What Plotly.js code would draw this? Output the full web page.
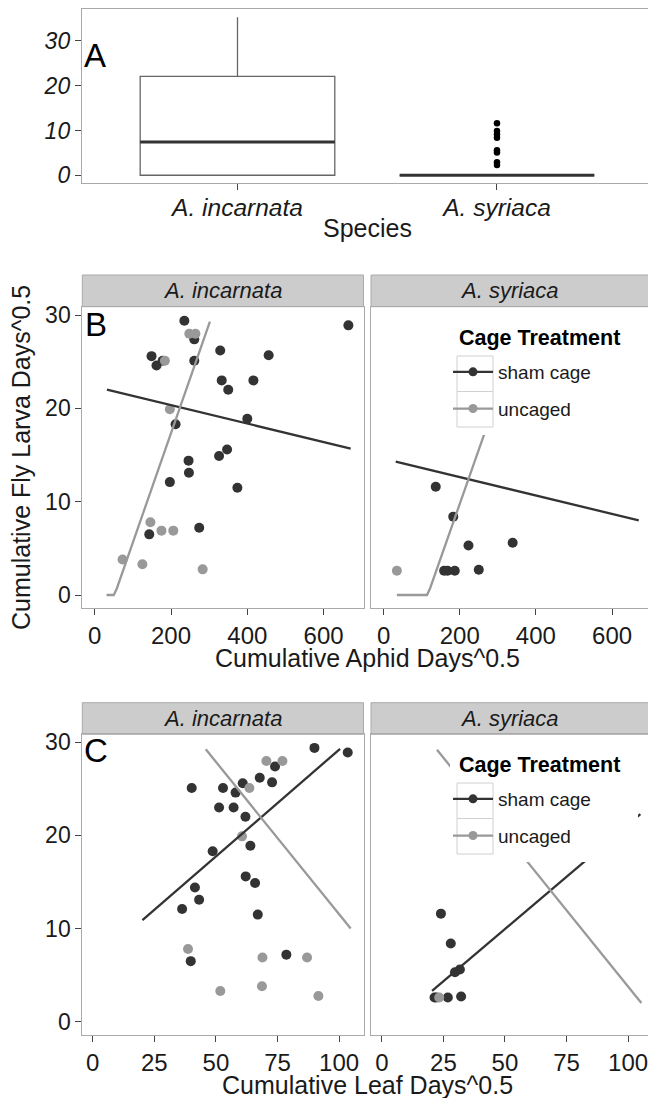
<!DOCTYPE html>
<html>
<head>
<meta charset="utf-8">
<script src="https://cdn.plot.ly/plotly-3.0.1.min.js"></script>
<style>html,body{margin:0;padding:0;background:#fff;}#chart{width:648px;height:1098px;}</style>
</head>
<body>
<div id="chart"></div>
<script>
// ---------- Panel A: boxplot by species ----------
const speciesLabels = ['A. incarnata', 'A. syriaca'];
const boxLower  = [0, 0];
const boxQ1     = [0, 0];
const boxMedian = [7.4, 0];
const boxQ3     = [22.1, 0];
const boxUpper  = [35.3, 0];
const syrOutliers = [11.6, 9.9, 9.1, 8.4, 5.6, 5.1, 2.9, 2.3];

// ---------- Panels B & C: individual plants ----------
// A. incarnata, sham cage
const incShamFly   = [29.4, 28.9, 27.4, 26.2, 25.7, 25.6, 25.1, 25.1, 24.6, 23.0, 23.0, 22.0, 18.9, 18.3, 15.6, 14.9, 14.4, 13.1, 12.1, 11.5, 7.2, 6.5];
const incShamAphid = [235, 665, 261, 329, 456, 149, 178, 261, 162, 333, 416, 350, 400, 212, 347, 326, 246, 247, 197, 374, 274, 143];
const incShamLeaf  = [90, 103.5, 74, 67.8, 72.8, 60.9, 40.2, 52.9, 58, 51.3, 57.2, 62, 64, 48.7, 62.1, 65.9, 41.5, 43.2, 36.3, 67, 78.6, 39.8];
// A. incarnata, uncaged
const incUncFly    = [28.0, 28.0, 25.1, 19.9, 7.8, 6.9, 6.9, 3.8, 3.3, 2.75];
const incUncAphid  = [248, 264, 184, 197, 146, 175, 206, 73, 125, 283];
const incUncLeaf   = [70.5, 77, 63.6, 60.6, 38.7, 68.9, 87, 68.7, 51.8, 91.6];
// A. syriaca, sham cage
const syrShamFly   = [11.6, 8.4, 5.3, 5.6, 2.6, 2.6, 2.6, 2.7];
const syrShamAphid = [137, 183, 223, 339, 159, 168, 187, 250];
const syrShamLeaf  = [24, 28, 29.7, 31.7, 21.4, 22.2, 26.8, 32.2];
// A. syriaca, uncaged
const syrUncFly    = [2.6];
const syrUncAphid  = [35];
const syrUncLeaf   = [23.3];

// ---------- fitted lines ----------
const fitB_incSham_x = [32, 671],      fitB_incSham_y = [22.0, 15.7];
const fitB_incUnc_x  = [31, 50, 58, 302], fitB_incUnc_y = [0, 0, 0.7, 29.3];
const fitB_syrSham_x = [32, 670],      fitB_syrSham_y = [14.3, 8.0];
const fitB_syrUnc_x  = [35, 114, 122, 302], fitB_syrUnc_y = [0, 0, 0.7, 21.6];
const fitC_incSham_x = [20.2, 100.4],  fitC_incSham_y = [10.9, 29.3];
const fitC_incUnc_x  = [45.9, 104.7],  fitC_incUnc_y = [29.25, 10.0];
const fitC_syrSham_x = [20.4, 105],    fitC_syrSham_y = [3.3, 22.3];
const fitC_syrUnc_x  = [22.4, 105.4],  fitC_syrUnc_y = [29.2, 2.0];

const treatments = ['sham cage', 'uncaged'];
const legendTitle = 'Cage Treatment';
const stripLabels = ['A. incarnata', 'A. syriaca'];

const DARK = '#333333', LIGHT = '#999999';
const FONT = 'Liberation Sans, Arial, Helvetica, sans-serif';
const W = 648, H = 1098;

function pts(x, y, col, xa, ya) {
  return {type:'scatter', mode:'markers', x:x, y:y, xaxis:xa, yaxis:ya,
    marker:{color:col, size:10}, showlegend:false, hoverinfo:'skip'};
}
function ln(x, y, col, xa, ya) {
  return {type:'scatter', mode:'lines', x:x, y:y, xaxis:xa, yaxis:ya,
    line:{color:col, width:2.3}, showlegend:false, hoverinfo:'skip'};
}

const traces = [];
// Panel A boxes
traces.push({type:'box', x:[0,1], q1:boxQ1, median:boxMedian, q3:boxQ3,
  lowerfence:boxLower, upperfence:boxUpper, width:0.75, whiskerwidth:0, xaxis:'x', yaxis:'y',
  fillcolor:'#ffffff', line:{color:'#666666', width:1.3}, boxpoints:false,
  showlegend:false, hoverinfo:'skip'});
const medX = [], medY = [];
boxMedian.forEach((m, i) => { medX.push(i - 0.375, i + 0.375, null); medY.push(m, m, null); });
traces.push({type:'scatter', mode:'lines', x:medX, y:medY, xaxis:'x', yaxis:'y',
  line:{color:DARK, width:3}, showlegend:false, hoverinfo:'skip'});
traces.push({type:'scatter', mode:'markers', x:syrOutliers.map(() => 1), y:syrOutliers,
  xaxis:'x', yaxis:'y', marker:{color:'#000000', size:6.5}, showlegend:false, hoverinfo:'skip'});

// Panel B
traces.push(pts(incShamAphid, incShamFly, DARK, 'x2', 'y2'));
traces.push(pts(incUncAphid, incUncFly, LIGHT, 'x2', 'y2'));
traces.push(ln(fitB_incSham_x, fitB_incSham_y, DARK, 'x2', 'y2'));
traces.push(ln(fitB_incUnc_x, fitB_incUnc_y, LIGHT, 'x2', 'y2'));
traces.push(pts(syrShamAphid, syrShamFly, DARK, 'x3', 'y3'));
traces.push(pts(syrUncAphid, syrUncFly, LIGHT, 'x3', 'y3'));
traces.push(ln(fitB_syrSham_x, fitB_syrSham_y, DARK, 'x3', 'y3'));
traces.push(ln(fitB_syrUnc_x, fitB_syrUnc_y, LIGHT, 'x3', 'y3'));
// Panel C
traces.push(pts(incShamLeaf, incShamFly, DARK, 'x4', 'y4'));
traces.push(pts(incUncLeaf, incUncFly, LIGHT, 'x4', 'y4'));
traces.push(ln(fitC_incSham_x, fitC_incSham_y, DARK, 'x4', 'y4'));
traces.push(ln(fitC_incUnc_x, fitC_incUnc_y, LIGHT, 'x4', 'y4'));
traces.push(pts(syrShamLeaf, syrShamFly, DARK, 'x5', 'y5'));
traces.push(pts(syrUncLeaf, syrUncFly, LIGHT, 'x5', 'y5'));
traces.push(ln(fitC_syrSham_x, fitC_syrSham_y, DARK, 'x5', 'y5'));
traces.push(ln(fitC_syrUnc_x, fitC_syrUnc_y, LIGHT, 'x5', 'y5'));

// legend entries
[['legend','x3','y3'], ['legend2','x5','y5']].forEach(([lg, xa, ya]) => {
  treatments.forEach((t, i) => {
    const c = i === 0 ? DARK : LIGHT;
    traces.push({type:'scatter', mode:'lines+markers', x:[null], y:[null], xaxis:xa, yaxis:ya,
      name:t, legend:lg, legendgroup:lg + t, line:{color:c, width:2.3},
      marker:{color:c, size:9}, hoverinfo:'skip'});
  });
});

const px = v => v / W;
const py = v => 1 - v / H;
const tickF = {family:FONT, size:24, color:'#1a1a1a'};
const tickFY = {family:FONT, size:23, color:'#1a1a1a'};
const tickFI = {family:FONT, size:24.5, color:'#1a1a1a', style:'italic'};
const tickFIY = {family:FONT, size:23, color:'#1a1a1a', style:'italic'};
const base = {showgrid:false, zeroline:false, showline:true, mirror:true, linecolor:'#aaaaaa',
  linewidth:1, ticks:'outside', ticklen:6, tickcolor:'#444444', tickwidth:1, automargin:false,
  fixedrange:true, ticklabeloverflow:'allow'};

const xB = [px(82.3), px(363.5)], xR = [px(371), 1];
const yB = [py(607.7), py(306.7)], yC = [py(1035), py(734.3)];

const legendBase = {x:px(448), xanchor:'left', yanchor:'top', bgcolor:'rgba(0,0,0,0)', borderwidth:0,
  font:{family:FONT, size:19, color:'#1a1a1a'}, tracegroupgap:9, itemwidth:40, traceorder:'grouped'};

const layout = {
  width:W, height:H, margin:{l:0, r:0, t:0, b:0},
  paper_bgcolor:'#ffffff', plot_bgcolor:'#ffffff',
  font:{family:FONT, color:'#1a1a1a'},
  xaxis: Object.assign({}, base, {domain:[px(81.8), 1], anchor:'y', range:[-0.6, 1.582],
    tickvals:[0,1], ticktext:speciesLabels, tickfont:tickFI, ticklabelstandoff:-4}),
  yaxis: Object.assign({}, base, {domain:[py(183.3), py(8.7)], anchor:'x', range:[-1.8, 37.2],
    tickvals:[0,10,20,30], tickfont:tickFIY}),
  xaxis2: Object.assign({}, base, {domain:xB, anchor:'y2', range:[-32.5, 704.6], tickvals:[0,200,400,600], tickfont:tickF}),
  yaxis2: Object.assign({}, base, {domain:yB, anchor:'x2', range:[-1.36, 30.9], tickvals:[0,10,20,30], tickfont:tickFY}),
  xaxis3: Object.assign({}, base, {domain:xR, anchor:'y3', range:[-33, 694.4], tickvals:[0,200,400,600], tickfont:tickF}),
  yaxis3: Object.assign({}, base, {domain:yB, anchor:'x3', range:[-1.36, 30.9], tickvals:[0,10,20,30], showticklabels:false, ticks:''}),
  xaxis4: Object.assign({}, base, {domain:xB, anchor:'y4', range:[-4.2, 109.9], tickvals:[0,25,50,75,100], tickfont:tickF}),
  yaxis4: Object.assign({}, base, {domain:yC, anchor:'x4', range:[-1.43, 30.86], tickvals:[0,10,20,30], tickfont:tickFY}),
  xaxis5: Object.assign({}, base, {domain:xR, anchor:'y5', range:[-4.4, 108.1], tickvals:[0,25,50,75,100], tickfont:tickF}),
  yaxis5: Object.assign({}, base, {domain:yC, anchor:'x5', range:[-1.43, 30.86], tickvals:[0,10,20,30], showticklabels:false, ticks:''}),
  legend: Object.assign({}, legendBase, {y:py(353)}),
  legend2: Object.assign({}, legendBase, {y:py(780)}),
  shapes: [], annotations: []
};

// strips
[['x2','y2',1, 31.7/301], ['x3','y3',1.03, 31.7/301], ['x4','y4',1, 31.6/300.7], ['x5','y5',1.03, 31.6/300.7]].forEach(([xa, ya, x1, h], k) => {
  layout.shapes.push({type:'rect', xref:xa + ' domain', yref:ya + ' domain', x0:0, x1:x1, y0:1, y1:1 + h,
    fillcolor:'#cccccc', line:{color:'#aaaaaa', width:1}, layer:'below'});
  layout.annotations.push({xref:xa + ' domain', yref:ya + ' domain', x:0.5, y:1 + h / 2,
    xanchor:'center', yanchor:'middle', showarrow:false, text:stripLabels[k % 2],
    font:{family:FONT, size:22, color:'#1a1a1a', style:'italic'}});
});

// legend backgrounds (white, hide lines beneath), key boxes and titles
[[322, 435], [749, 862]].forEach(([top, bottom]) => {
  layout.shapes.push({type:'rect', xref:'paper', yref:'paper', x0:px(450), x1:px(638), y0:py(bottom), y1:py(top),
    fillcolor:'#ffffff', line:{width:0}, layer:'above'});
  const k0 = top + 34;
  [0, 1].forEach(r => {
    layout.shapes.push({type:'rect', xref:'paper', yref:'paper', x0:px(457), x1:px(493),
      y0:py(k0 + 35.5 * (r + 1)), y1:py(k0 + 35.5 * r), fillcolor:'rgba(0,0,0,0)',
      line:{color:'#d0d0d0', width:1}, layer:'above'});
  });
  layout.annotations.push({xref:'paper', yref:'paper', x:px(457), y:py(top + 16), text:'<b>' + legendTitle + '</b>',
    showarrow:false, xanchor:'left', yanchor:'middle', font:{family:FONT, size:21.5, color:'#000'}});
});

// axis titles
const titleF = {family:FONT, size:25, color:'#1a1a1a'};
layout.annotations.push({xref:'paper', yref:'paper', x:px(367), y:py(228), text:'Species', showarrow:false, font:titleF, xanchor:'center', yanchor:'middle'});
layout.annotations.push({xref:'paper', yref:'paper', x:px(367.6), y:py(658), text:'Cumulative Aphid Days^0.5', showarrow:false, font:titleF, xanchor:'center', yanchor:'middle'});
layout.annotations.push({xref:'paper', yref:'paper', x:px(367.7), y:py(1085), text:'Cumulative Leaf Days^0.5', showarrow:false, font:titleF, xanchor:'center', yanchor:'middle'});
layout.annotations.push({xref:'paper', yref:'paper', x:px(21), y:py(458), text:'Cumulative Fly Larva Days^0.5', textangle:-90, showarrow:false, font:titleF, xanchor:'center', yanchor:'middle'});
// panel letters
const letterF = {family:FONT, size:33, color:'#000'};
layout.annotations.push({xref:'paper', yref:'paper', x:px(82), y:py(55), text:'A', showarrow:false, font:letterF, xanchor:'left', yanchor:'middle'});
layout.annotations.push({xref:'paper', yref:'paper', x:px(83), y:py(324), text:'B', showarrow:false, font:letterF, xanchor:'left', yanchor:'middle'});
layout.annotations.push({xref:'paper', yref:'paper', x:px(82), y:py(751), text:'C', showarrow:false, font:letterF, xanchor:'left', yanchor:'middle'});

Plotly.newPlot('chart', traces, layout, {staticPlot:true, displayModeBar:false});
</script>
</body>
</html>
